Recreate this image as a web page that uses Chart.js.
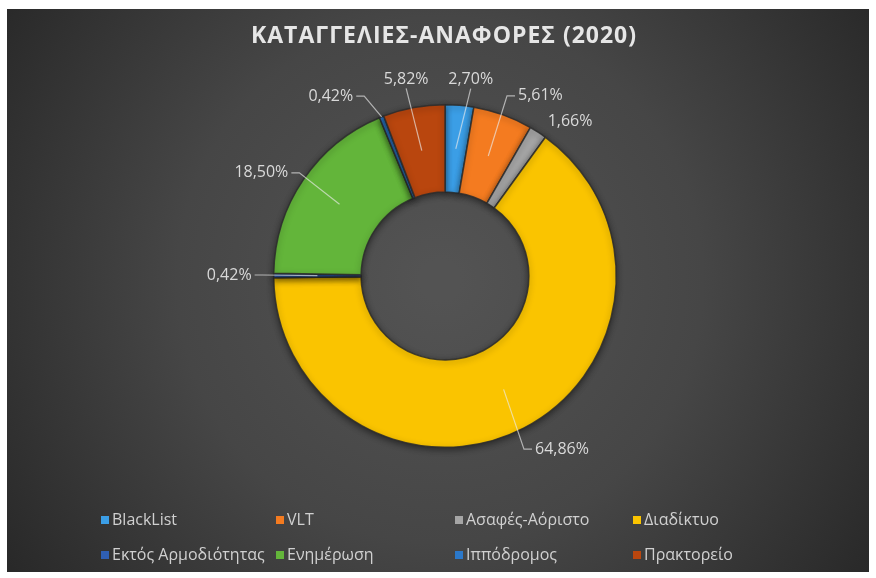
<!DOCTYPE html>
<html>
<head>
<meta charset="utf-8">
<script src="https://cdn.jsdelivr.net/npm/chart.js@4.4.1/dist/chart.umd.min.js"></script>
<style>
  html, body { margin: 0; padding: 0; background: #ffffff; }
  #wrap { width: 876px; height: 578px; }
</style>
</head>
<body>
<div id="wrap"><canvas id="c" width="876" height="578"></canvas></div>
<script>
// ---- data ----
const chartTitle = 'ΚΑΤΑΓΓΕΛΙΕΣ-ΑΝΑΦΟΡΕΣ (2020)';
const categories = ['BlackList', 'VLT', 'Ασαφές-Αόριστο', 'Διαδίκτυο', 'Εκτός Αρμοδιότητας', 'Ενημέρωση', 'Ιππόδρομος', 'Πρακτορείο'];
const percentages = [2.70, 5.61, 1.66, 64.86, 0.42, 18.50, 0.42, 5.82];

// ---- styles ----
const sliceColors = ['#3b9ee6', '#f47b20', '#a5a5a5', '#fac400', '#2f5fb3', '#63b53a', '#2b78c9', '#b9460e'];
// per-label layout: [angle nudge in degrees, distance as fraction of outer radius, leader start (fraction of ring), show leader]
const labelLayout = [
  [2.6, 1.157, 0.5, true],
  [8.1, 1.19, 0.5, true],
  [6.0, 1.163, 0.5, false],
  [-6.7, 1.22, 0.5, true],
  [0.1, 1.26, 0.5, true],
  [-4.9, 1.23, 0.5, true],
  [-10.7, 1.244, 1.0, true],
  [-0.7, 1.17, 0.5, true]
];
const legendCols = [101, 276, 455, 633];
const legendRows = [520, 555];

function fmt(v) { return v.toFixed(2).replace('.', ',') + '%'; }

const bgPlugin = {
  id: 'bg',
  beforeDraw(chart) {
    const ctx = chart.ctx;
    ctx.save();
    ctx.fillStyle = '#ffffff';
    ctx.fillRect(0, 0, chart.width, chart.height);
    const g = ctx.createRadialGradient(440, 280, 20, 440, 280, 560);
    g.addColorStop(0, '#535353');
    g.addColorStop(0.45, '#464646');
    g.addColorStop(1, '#242424');
    ctx.fillStyle = g;
    ctx.fillRect(7, 9, chart.width - 14, chart.height - 15);
    // title
    ctx.font = 'bold 23px "Open Sans", "DejaVu Sans", sans-serif';
    ctx.letterSpacing = '1px';
    ctx.fillStyle = '#e6e6e6';
    ctx.textAlign = 'center';
    ctx.textBaseline = 'middle';
    ctx.fillText(chartTitle, 444, 36);
    ctx.restore();
  },
  beforeDatasetsDraw(chart) {
    const ctx = chart.ctx;
    ctx.save();
    ctx.shadowColor = 'rgba(0,0,0,0.45)';
    ctx.shadowBlur = 6;
    ctx.shadowOffsetY = 2;
  },
  afterDatasetsDraw(chart) {
    chart.ctx.restore();
    const ctx = chart.ctx;
    const meta = chart.getDatasetMeta(0);
    const vals = chart.data.datasets[0].data;
    ctx.save();
    ctx.font = '16px "Open Sans", "DejaVu Sans", sans-serif';
    ctx.textBaseline = 'middle';
    ctx.textAlign = 'center';
    meta.data.forEach((arc, i) => {
      const p = arc.getProps(['x', 'y', 'startAngle', 'endAngle', 'innerRadius', 'outerRadius'], true);
      const mid = (p.startAngle + p.endAngle) / 2 + Math.PI / 2; // clockwise from top
      const lay = labelLayout[i];
      const a = mid + lay[0] * Math.PI / 180;
      const R = p.outerRadius;
      const lx = p.x + Math.sin(a) * R * lay[1];
      const ly = p.y - Math.cos(a) * R * lay[1];
      const txt = fmt(vals[i]);
      const w = ctx.measureText(txt).width;
      if (lay[3]) {
        const rs = p.innerRadius + (p.outerRadius - p.innerRadius) * lay[2];
        const sx = p.x + Math.sin(mid) * rs;
        const sy = p.y - Math.cos(mid) * rs;
        ctx.strokeStyle = 'rgba(235,235,235,0.65)';
        ctx.lineWidth = 1.2;
        ctx.beginPath();
        ctx.moveTo(sx, sy);
        if (Math.abs(Math.sin(a)) < 0.25) {
          const side = Math.cos(a) > 0 ? 1 : -1;
          ctx.lineTo(lx, ly + side * 9);
        } else {
          const sg = Math.sin(a) > 0 ? 1 : -1;
          const ex = lx - sg * (w / 2 + 3);
          ctx.lineTo(ex - sg * 8, ly);
          ctx.lineTo(ex, ly);
        }
        ctx.stroke();
      }
      ctx.fillStyle = '#d9d9d9';
      ctx.fillText(txt, lx, ly);
    });
    ctx.restore();
  },
  afterDraw(chart) {
    const ctx = chart.ctx;
    const ds = chart.data.datasets[0];
    ctx.save();
    ctx.font = '16px "Open Sans", "DejaVu Sans", sans-serif';
    ctx.textBaseline = 'middle';
    ctx.textAlign = 'left';
    chart.data.labels.forEach((lab, i) => {
      const x = legendCols[i % 4];
      const y = legendRows[Math.floor(i / 4)];
      ctx.fillStyle = ds.backgroundColor[i];
      ctx.fillRect(x, y - 4, 8, 8);
      ctx.fillStyle = '#d0d0d0';
      ctx.fillText(lab, x + 11, y);
    });
    ctx.restore();
  }
};

new Chart(document.getElementById('c'), {
  type: 'doughnut',
  data: {
    labels: categories,
    datasets: [{
      data: percentages,
      backgroundColor: sliceColors,
      borderColor: 'rgba(45,45,45,0.85)',
      borderWidth: 1.5
    }]
  },
  options: {
    responsive: false,
    animation: false,
    devicePixelRatio: 1,
    cutout: '49%',
    rotation: 0,
    layout: { padding: { top: 104, bottom: 130, left: 273, right: 259 } },
    plugins: {
      legend: { display: false },
      title: { display: false },
      tooltip: { enabled: false }
    }
  },
  plugins: [bgPlugin]
});
</script>
</body>
</html>
